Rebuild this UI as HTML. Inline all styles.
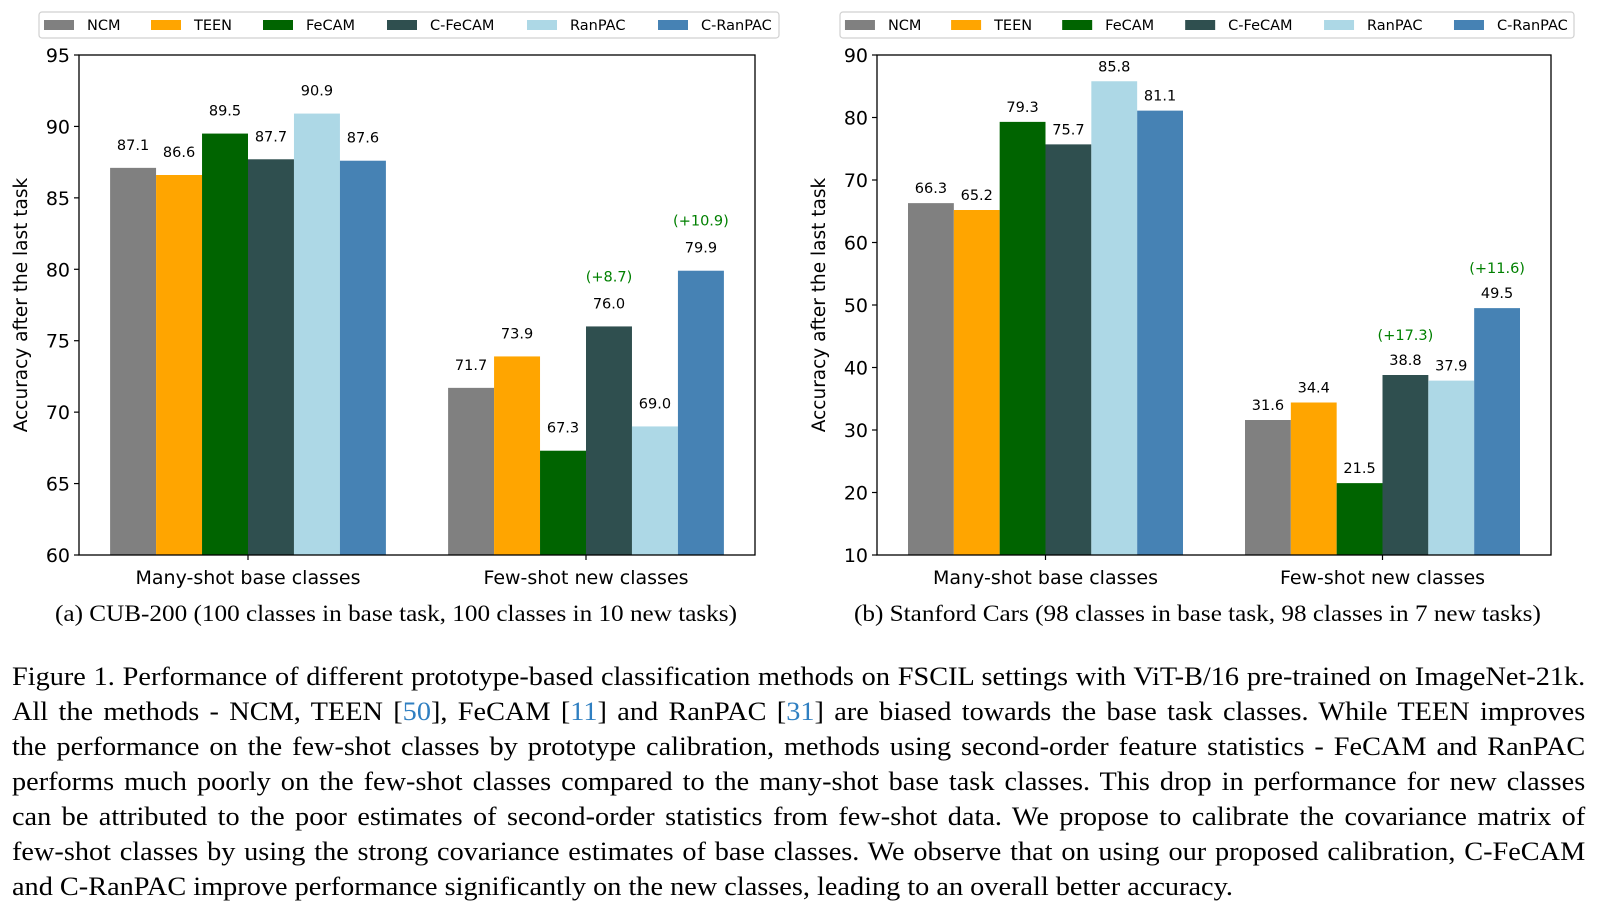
<!DOCTYPE html>
<html><head><meta charset="utf-8">
<style>
body{margin:0;background:#fff;width:1599px;height:915px;overflow:hidden;position:relative;font-family:"DejaVu Sans","Liberation Sans",sans-serif}
svg{position:absolute;left:0;top:0}
.cap{position:absolute;font-family:"Liberation Serif",serif;font-size:23px;white-space:nowrap;color:#000;transform:scaleX(1.095);transform-origin:left top}
#para{position:absolute;left:12px;top:659px;width:1446px;font-family:"Liberation Serif",serif;font-size:26px;line-height:35px;color:#000;transform:scaleX(1.088);transform-origin:left top}
#para div{text-align:justify;text-align-last:justify;white-space:nowrap}
#para div.last{text-align-last:left}
.ref{color:#2f7fc1}
</style></head>
<body>
<svg id="chart" width="1599" height="640"></svg>
<div class="cap" style="left:55px;top:601px">(a) CUB-200 (100 classes in base task, 100 classes in 10 new tasks)</div>
<div class="cap" style="left:854px;top:601px">(b) Stanford Cars (98 classes in base task, 98 classes in 7 new tasks)</div>
<div id="para">
<div>Figure 1. Performance of different prototype-based classification methods on FSCIL settings with ViT-B/16 pre-trained on ImageNet-21k.</div>
<div>All the methods - NCM, TEEN [<span class="ref">50</span>], FeCAM [<span class="ref">11</span>] and RanPAC [<span class="ref">31</span>] are biased towards the base task classes. While TEEN improves</div>
<div>the performance on the few-shot classes by prototype calibration, methods using second-order feature statistics - FeCAM and RanPAC</div>
<div>performs much poorly on the few-shot classes compared to the many-shot base task classes. This drop in performance for new classes</div>
<div>can be attributed to the poor estimates of second-order statistics from few-shot data. We propose to calibrate the covariance matrix of</div>
<div>few-shot classes by using the strong covariance estimates of base classes. We observe that on using our proposed calibration, C-FeCAM</div>
<div class="last">and C-RanPAC improve performance significantly on the new classes, leading to an overall better accuracy.</div>
</div>
<script>
const methods = ["NCM","TEEN","FeCAM","C-FeCAM","RanPAC","C-RanPAC"];
const colors = ["#808080","#ffa500","#006400","#2f4f4f","#add8e6","#4682b4"];
const categories = ["Many-shot base classes","Few-shot new classes"];
const cubBase = [87.1,86.6,89.5,87.7,90.9,87.6];
const cubNew = [71.7,73.9,67.3,76.0,69.0,79.9];
const carsBase = [66.3,65.2,79.3,75.7,85.8,81.1];
const carsNew = [31.6,34.4,21.5,38.8,37.9,49.5];
const cubTicks = [60,65,70,75,80,85,90,95];
const carsTicks = [10,20,30,40,50,60,70,80,90];
const cubGains = [null,null,null,"(+8.7)",null,"(+10.9)"];
const carsGains = [null,null,null,"(+17.3)",null,"(+11.6)"];
const legendOffsets=[5,112,224,348,488,619];
const NS="http://www.w3.org/2000/svg";
const svg=document.getElementById('chart');
function mk(t,a,p){const e=document.createElementNS(NS,t);for(const k in a)e.setAttribute(k,a[k]);(p||svg).appendChild(e);return e;}
function panel(id,L,R,T,B,ymin,ymax,ticks,series,gains,legX,legW,lblOff,gainOff){
  const g=mk('g',{});
  
  
  const xs=v=>L+(v+0.5)*(R-L)/2;
  const ys=v=>B-(v-ymin)*(B-T)/(ymax-ymin);
  const w=0.136*(R-L)/2;
  series.forEach((vals,ci)=>{
    vals.forEach((v,j)=>{
      const x=xs(ci)+(j-3)*w;
      const r=mk('rect',{x:x,y:ys(v),width:w,height:B-ys(v),fill:colors[j]},g);
      
      
      const t=mk('text',{x:x+w/2,y:ys(v)-lblOff,'text-anchor':'middle','font-size':14.5},g);
      t.textContent=v.toFixed(1);
      
      
      if(ci===1&&gains[j]){
        const gt=mk('text',{x:x+w/2,y:ys(v)-lblOff-gainOff,'text-anchor':'middle','font-size':14.5,fill:'#008000'},g);
        gt.textContent=gains[j];
        
        
      }
    });
  });
  const ax=mk('rect',{x:L,y:T,width:R-L,height:B-T,fill:'none',stroke:'#000','stroke-width':1.3},g);
  
  
  ticks.forEach(v=>{
    mk('line',{x1:L-5,x2:L,y1:ys(v),y2:ys(v),stroke:'#000','stroke-width':1.2},g);
    const t=mk('text',{x:L-9,y:ys(v)+7,'text-anchor':'end','font-size':19},g);
    t.textContent=v;
    
    
  });
  categories.forEach((c,i)=>{
    mk('line',{x1:xs(i),x2:xs(i),y1:B,y2:B+5,stroke:'#000','stroke-width':1.2},g);
    const t=mk('text',{x:xs(i),y:B+29,'text-anchor':'middle','font-size':19},g);
    t.textContent=c;
    
    
  });
  const yl=mk('text',{x:0,y:0,'text-anchor':'middle','font-size':18.5,transform:`translate(${L-52},${(T+B)/2}) rotate(-90)`},g);
  yl.textContent='Accuracy after the last task';
  
  
  const lg=mk('g',{},g);
  
  
  mk('rect',{x:legX,y:12,width:legW,height:26,rx:3,fill:'#fff',stroke:'#d0d0d0','stroke-width':1.2},lg);
  const sc=legW/740;
  methods.forEach((m,j)=>{
    const px=legX+legendOffsets[j]*sc;
    mk('rect',{x:px,y:20,width:30,height:10,fill:colors[j]},lg);
    const t=mk('text',{x:px+43,y:30,'font-size':14.5},lg);
    t.textContent=m;
    
    
  });
}
panel('cub',79,755,55,555,60,95,cubTicks,[cubBase,cubNew],cubGains,39,740,18,27);
panel('cars',877,1551,55,555,10,90,carsTicks,[carsBase,carsNew],carsGains,840,734,10,25);
</script>
</body></html>
